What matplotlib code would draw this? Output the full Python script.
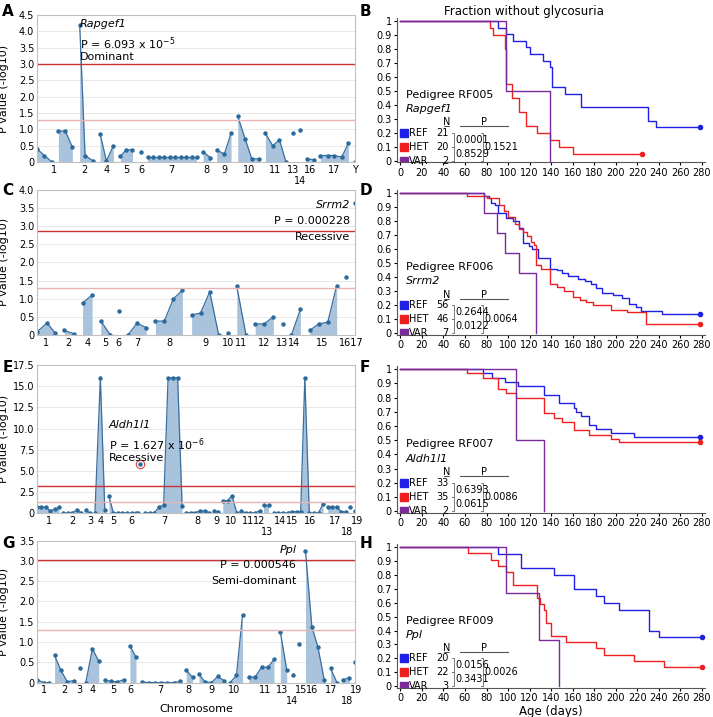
"""
Manhattan plots and survival curves for four ENU pedigrees.
"""

import numpy as np
import matplotlib.pyplot as plt

# Manhattan segments: (positions along genome 0-100, -log10 P)
A_SEGS = [
    ([0, 2.3, 4.7], [0.4, 0.2, 0.0]),
    ([6.7, 8.9, 11.1], [0.95, 0.95, 0.45]),
    ([13.4, 15.1, 17.7], [4.2, 0.2, 0.03]),
    ([19.8, 21.8, 24.0], [0.87, 0.03, 0.5]),
    ([26.2, 28.1, 30.0], [0.18, 0.38, 0.37]),
    ([32.8], [0.3]),
    ([34.9, 36.6, 38.3, 40.0, 41.8, 43.4, 45.2, 46.8, 48.6, 50.3], [0.15] * 10),
    ([52.2, 54.5], [0.32, 0.13]),
    ([56.5, 58.9, 61.0], [0.36, 0.25, 0.88]),
    ([63.1, 65.4, 67.5, 69.7], [1.4, 0.72, 0.1, 0.1]),
    ([71.8, 74.1, 76.2, 78.3], [0.88, 0.5, 0.68, 0.0]),
    ([80.5], [0.88]),
    ([82.7], [0.98]),
    ([84.9, 87.0], [0.1, 0.07]),
    ([89.1, 91.4, 93.5, 95.8, 97.9], [0.2, 0.2, 0.2, 0.15, 0.58]),
    ([100], [0.0]),
]
A_CHR = [("1", 5.4, 0), ("2", 14.8, 0), ("4", 21.8, 0), ("5", 28.0, 0), ("6", 32.7, 0),
         ("7", 42.3, 0), ("8", 53.3, 0), ("9", 58.9, 0), ("10", 66.7, 0), ("11", 75.0, 0),
         ("13", 80.5, 0), ("14", 82.6, 1), ("16", 85.9, 0), ("17", 93.4, 0), ("Y", 100, 0)]

C_SEGS = [
    ([0, 3.1, 5.7], [0.08, 0.33, 0.05]),
    ([8.6, 11.6], [0.12, 0.03]),
    ([14.3, 17.3], [0.88, 1.1]),
    ([20.0, 23.0], [0.39, 0.0]),
    ([25.8], [0.65]),
    ([28.6, 31.4, 34.3], [0.0, 0.32, 0.2]),
    ([37.2, 40.0, 42.9, 45.7], [0.38, 0.38, 1.0, 1.23]),
    ([48.6, 51.4, 54.3, 57.1], [0.55, 0.6, 1.19, 0.0]),
    ([60.0], [0.05]),
    ([62.8, 65.7], [1.34, 0.0]),
    ([68.6, 71.4, 74.3], [0.3, 0.3, 0.5]),
    ([77.2], [0.3]),
    ([80.0, 82.8], [0.0, 0.7]),
    ([85.7, 88.5, 91.4, 94.2], [0.12, 0.3, 0.35, 1.35]),
    ([97.1], [1.6]),
    ([100], [3.65]),
]
C_CHR = [("1", 2.8, 0), ("2", 9.9, 0), ("4", 15.9, 0), ("5", 21.6, 0), ("6", 25.6, 0),
         ("7", 31.5, 0), ("8", 41.5, 0), ("9", 52.9, 0), ("10", 60.1, 0), ("11", 64.2, 0),
         ("12", 71.5, 0), ("13", 77.2, 0), ("14", 80.8, 0), ("15", 89.8, 0), ("1617", 98.8, 0)]

E_SEGS = [
    ([0, 1.3, 2.7, 4.1, 5.5, 6.9], [0.8, 0.75, 0.75, 0.3, 0.5, 0.7]),
    ([8.3, 9.6, 11.1, 12.4, 13.9], [0.05, 0.05, 0.05, 0.4, 0.05]),
    ([15.3, 16.6], [0.35, 0.05]),
    ([18.2, 19.9, 21.3], [0.05, 16.0, 0.4]),
    ([22.6, 24.0, 25.4, 26.8, 28.3, 29.7, 31.1, 31.6], [2.0, 0.05, 0.05, 0.05, 0.05, 0.05, 0.05, 0.05]),
    ([32.5], [5.8]),
    ([33.9, 35.4, 36.8, 38.3, 39.8, 41.2, 42.6, 44.2, 45.6],
     [0.05, 0.05, 0.05, 0.7, 1.0, 16.0, 16.0, 16.0, 0.9]),
    ([46.9, 48.4, 49.8, 51.3, 52.7, 54.1], [0.1, 0.1, 0.1, 0.3, 0.3, 0.1]),
    ([55.5, 57.0], [0.3, 0.2]),
    ([58.4, 59.9, 61.3, 62.8], [1.5, 1.5, 2.1, 0.05]),
    ([64.2, 65.7, 67.1, 68.6, 70.0], [0.25, 0.05, 0.05, 0.05, 0.3]),
    ([71.5, 72.9], [1.0, 1.0]),
    ([74.4, 75.8, 77.3, 78.8, 80.1, 81.6, 82.9, 84.2, 85.6, 87.0, 88.5, 89.9],
     [0.05, 0.05, 0.05, 0.05, 0.2, 0.2, 0.2, 16.0, 0.05, 0.05, 0.05, 1.1]),
    ([91.4, 92.8, 94.3, 95.6, 97.1], [0.75, 0.75, 0.75, 0.2, 0.2]),
    ([98.5], [0.8]),
    ([100], [0.3]),
]
E_HIT = (32.5, 5.8)
E_CHR = [("1", 3.6, 0), ("2", 11.1, 0), ("3", 16.8, 0), ("4", 19.9, 0), ("5", 24.0, 0),
         ("6", 29.8, 0), ("7", 39.9, 0), ("8", 50.5, 0), ("9", 56.5, 0), ("10", 61.1, 0),
         ("11", 66.3, 0), ("12", 69.9, 0), ("13", 72.2, 1), ("14", 76.3, 0), ("15", 80.3, 0),
         ("16", 85.8, 0), ("17", 93.8, 0), ("18", 97.4, 1), ("19", 100.5, 0)]

G_SEGS = [
    ([0, 2.1, 3.6], [0.07, 0.0, 0.0]),
    ([5.5, 7.5, 9.5, 11.5], [0.67, 0.3, 0.02, 0.05]),
    ([13.4], [0.35]),
    ([15.3, 17.4, 19.4], [0.0, 0.83, 0.53]),
    ([21.3, 23.3, 25.2, 27.2], [0.06, 0.03, 0.02, 0.07]),
    ([29.2, 31.1], [0.9, 0.63]),
    ([33.1, 35.1, 37.0, 39.0, 41.0, 43.0, 45.0], [0.02, 0.0, 0.0, 0.0, 0.0, 0.0, 0.03]),
    ([46.9, 48.9], [0.3, 0.13]),
    ([50.9, 52.8, 54.8, 56.8, 58.8], [0.2, 0.02, 0.0, 0.15, 0.05]),
    ([60.7, 62.7, 64.6], [0.0, 0.18, 1.67]),
    ([66.6, 68.6, 70.6, 72.6, 74.5], [0.13, 0.14, 0.38, 0.38, 0.57]),
    ([76.5, 78.5], [1.25, 0.32]),
    ([80.5], [0.18]),
    ([82.4], [0.95]),
    ([84.4, 86.4, 88.3, 90.3], [3.25, 1.38, 0.88, 0.07]),
    ([92.3, 94.3], [0.35, 0.0]),
    ([96.2, 98.2], [0.07, 0.12]),
    ([100], [0.5]),
]
G_CHR = [("1", 2.2, 0), ("2", 8.6, 0), ("3", 13.4, 0), ("4", 17.4, 0), ("5", 24.1, 0),
         ("6", 29.5, 0), ("7", 38.9, 0), ("8", 47.7, 0), ("9", 54.7, 0), ("10", 62.0, 0),
         ("11", 71.8, 0), ("13", 76.9, 0), ("14", 80.3, 1), ("15", 82.9, 0), ("16", 86.5, 0),
         ("17", 92.6, 0), ("18", 97.4, 1), ("19", 100.3, 0)]

# Kaplan-Meier step points: (age in days, fraction)
B_REF = ([0, 91, 98, 105, 117, 120, 132, 139, 141, 153, 168, 230, 237, 278],
         [1, 0.95, 0.905, 0.857, 0.81, 0.762, 0.714, 0.667, 0.524, 0.476, 0.381, 0.286, 0.238, 0.238])
B_HET = ([0, 83, 86, 97, 98, 104, 110, 117, 127, 139, 147, 160, 224],
         [1, 0.95, 0.9, 0.8, 0.55, 0.45, 0.35, 0.25, 0.2, 0.15, 0.1, 0.05, 0.05])
B_VAR = ([0, 98, 139], [1, 0.5, 0.0])

D_REF = ([0, 78, 82, 84, 88, 91, 98, 105, 110, 114, 119, 122, 128, 139, 145, 150, 156, 165, 171,
          177, 182, 187, 197, 206, 212, 219, 223, 243, 278],
         [1, 0.98, 0.96, 0.93, 0.91, 0.86, 0.82, 0.80, 0.75, 0.64, 0.62, 0.60, 0.54, 0.46, 0.45,
          0.43, 0.41, 0.39, 0.37, 0.35, 0.32, 0.29, 0.27, 0.25, 0.21, 0.19, 0.16, 0.14, 0.14])
D_HET = ([0, 62, 80, 92, 96, 100, 106, 110, 114, 118, 121, 124, 126, 131, 139, 145, 152, 160, 167,
          172, 179, 196, 210, 228, 278],
         [1, 0.98, 0.96, 0.91, 0.87, 0.83, 0.78, 0.74, 0.72, 0.69, 0.65, 0.63, 0.49, 0.46, 0.35,
          0.33, 0.30, 0.26, 0.24, 0.22, 0.20, 0.17, 0.15, 0.07, 0.07])
D_VAR = ([0, 78, 90, 97, 110, 126], [1, 0.857, 0.714, 0.571, 0.429, 0.0])

F_REF = ([0, 77, 85, 97, 109, 133, 147, 161, 163, 168, 175, 182, 196, 217, 278],
         [1, 0.97, 0.94, 0.91, 0.88, 0.82, 0.76, 0.73, 0.70, 0.67, 0.61, 0.58, 0.55, 0.52, 0.52])
F_HET = ([0, 62, 77, 91, 98, 107, 133, 143, 150, 161, 175, 196, 203, 278],
         [1, 0.97, 0.94, 0.86, 0.83, 0.80, 0.69, 0.66, 0.63, 0.57, 0.54, 0.51, 0.49, 0.49])
F_VAR = ([0, 107, 133], [1, 0.5, 0.0])

H_REF = ([0, 91, 112, 143, 161, 182, 189, 203, 231, 240, 280],
         [1, 0.95, 0.85, 0.80, 0.70, 0.65, 0.60, 0.55, 0.40, 0.35, 0.35])
H_HET = ([0, 63, 84, 91, 98, 105, 127, 130, 133, 135, 140, 154, 182, 189, 217, 245, 280],
         [1, 0.955, 0.91, 0.864, 0.818, 0.727, 0.636, 0.591, 0.545, 0.455, 0.364, 0.318, 0.273,
          0.227, 0.182, 0.136, 0.136])
H_VAR = ([0, 98, 129, 147], [1, 0.667, 0.333, 0.0])

GROUPS = ["REF", "HET", "VAR"]
KM_COLORS = ["#1f1fe6", "#f01f1f", "#7b2a9c"]


def plot_manhattan(ax, segs, chroms, ymax, ystep, red, gene, ptext, mode, text_x, text_y,
                   ha="left", hit=None, xlabel=False):
    """Draw one Manhattan plot: filled line segments per chromosome."""
    for xs, ys in segs:
        if len(xs) > 1:
            ax.fill_between(xs, 0, ys, color="#a9c3dc", lw=0)
            ax.plot(xs, ys, color="#3a6f9f", lw=0.9)
        ax.plot(xs, ys, "o", color="#2b6a9c", ms=2.2, ls="none")
    if hit:
        ax.plot(*hit, "o", mfc="none", mec="#e04040", ms=6, mew=0.8)
    ax.axhline(red, color="#c83232", lw=1.0)
    ax.axhline(1.3, color="#e6b4b4", lw=1.0)
    ax.set_xlim(0, 100)
    ax.set_ylim(0, ymax)
    ticks = np.arange(0, ymax + 0.01, ystep)
    ax.set_yticks(ticks)
    ax.set_yticklabels(["0"] + [f"{t:.1f}" for t in ticks[1:]], fontsize=7)
    ax.set_xticks([])
    ax.grid(True, axis="y", color="#e8e8e8", lw=0.7)
    ax.set_axisbelow(True)
    for s in ax.spines.values():
        s.set_color("#c0c0c0")
    ax.tick_params(axis="y", length=0, pad=2)
    ax.set_ylabel("P value (-log10)", fontsize=8)
    ax.yaxis.set_label_coords(-0.088, 0.5)
    for lab, x, lower in chroms:
        ax.text(x, -0.02 - 0.075 * lower, lab, transform=ax.get_xaxis_transform(),
                ha="center", va="top", fontsize=7)
    ax.text(text_x, text_y, gene, style="italic", ha=ha, va="top", fontsize=8,
            transform=ax.transAxes)
    ax.text(text_x, text_y - 0.11, ptext, ha=ha, va="top", fontsize=8, transform=ax.transAxes)
    ax.text(text_x, text_y - 0.22, mode, ha=ha, va="top", fontsize=8, transform=ax.transAxes)
    if xlabel:
        ax.text(0.5, -0.15, "Chromosome", transform=ax.transAxes, ha="center", va="top",
                fontsize=8)


def plot_km(ax, curves, ns, pvals, pedigree, gene, xlabel=False):
    """Kaplan-Meier steps with the small N / P table in the lower left."""
    for (t, s), c in zip(curves, KM_COLORS):
        ax.step(t, s, where="post", color=c, lw=1.0)
        if s[-1] > 0:
            ax.plot(t[-1], s[-1], "o", color=c, ms=3)
    ax.set_xlim(-3, 283)
    ax.set_ylim(-0.01, 1.02)
    ax.set_xticks(range(0, 281, 20))
    ax.set_yticks(np.arange(0, 1.01, 0.1))
    ax.set_yticklabels(["0"] + [f"{v:.1f}" for v in np.arange(0.1, 0.95, 0.1)] + ["1"])
    ax.tick_params(labelsize=7, length=2.5, pad=1.5)
    for side in ["top", "right"]:
        ax.spines[side].set_visible(False)
    for side in ["left", "bottom"]:
        ax.spines[side].set_color("#555555")
    ax.text(5, 0.47, f"Pedigree {pedigree}", fontsize=8, va="center")
    ax.text(5, 0.37, gene, fontsize=8, style="italic", va="center")
    ax.text(43, 0.275, "N", fontsize=7, ha="center", va="center")
    ax.plot([40.5, 45.5], [0.245, 0.245], color="k", lw=0.5)
    ax.text(78, 0.275, "P", fontsize=7, ha="center", va="center")
    ax.plot([55, 100], [0.245, 0.245], color="#555555", lw=0.8)
    for i, (g, n, c) in enumerate(zip(GROUPS, ns, KM_COLORS)):
        y = 0.2 - 0.1 * i
        ax.plot(3, y, "s", color=c, ms=5.5)
        ax.text(8, y, g, fontsize=7, va="center")
        ax.text(45, y, str(n), fontsize=7, va="center", ha="right")
    ax.plot([48, 50, 50, 48], [0.2, 0.2, 0.1, 0.1], color="#666666", lw=0.6)
    ax.plot([48, 50, 50, 48], [0.1, 0.1, 0.0, 0.0], color="#666666", lw=0.6)
    ax.text(51, 0.15, pvals[0], fontsize=7, va="center")
    ax.text(51, 0.05, pvals[1], fontsize=7, va="center")
    ax.plot([75, 77, 77, 75], [0.2, 0.2, 0.0, 0.0], color="#666666", lw=0.6)
    ax.text(78, 0.1, pvals[2], fontsize=7, va="center")
    if xlabel:
        ax.set_xlabel("Age (days)", fontsize=8.5, labelpad=1)


def main():
    fig = plt.figure(figsize=(7.13, 7.17), dpi=100)
    left = [fig.add_axes([0.052, b, 0.446, h]) for b, h in
            [(0.774, 0.205), (0.533, 0.202), (0.284, 0.207), (0.048, 0.198)]]
    right = [fig.add_axes([0.557, b, 0.432, h]) for b, h in
             [(0.774, 0.201), (0.533, 0.202), (0.285, 0.204), (0.041, 0.200)]]

    plot_manhattan(left[0], A_SEGS, A_CHR, 4.5, 0.5, 3.0, "Rapgef1",
                   r"P = 6.093 x 10$^{-5}$", "Dominant", 0.135, 0.97)
    plot_manhattan(left[1], C_SEGS, C_CHR, 4.0, 0.5, 2.87, "Srrm2",
                   "P = 0.000228", "Recessive", 0.985, 0.93, ha="right")
    plot_manhattan(left[2], E_SEGS, E_CHR, 17.5, 2.5, 3.2, "Aldh1l1",
                   r"P = 1.627 x 10$^{-6}$", "Recessive", 0.225, 0.63, hit=E_HIT)
    plot_manhattan(left[3], G_SEGS, G_CHR, 3.5, 0.5, 3.02, "Ppl",
                   "P = 0.000546", "Semi-dominant", 0.815, 0.97, ha="right", xlabel=True)

    plot_km(right[0], [B_REF, B_HET, B_VAR], [21, 20, 2], ["0.0001", "0.8529", "0.1521"],
            "RF005", "Rapgef1")
    plot_km(right[1], [D_REF, D_HET, D_VAR], [56, 46, 7], ["0.2644", "0.0122", "0.0064"],
            "RF006", "Srrm2")
    plot_km(right[2], [F_REF, F_HET, F_VAR], [33, 35, 2], ["0.6393", "0.0615", "0.0086"],
            "RF007", "Aldh1l1")
    plot_km(right[3], [H_REF, H_HET, H_VAR], [20, 22, 3], ["0.0156", "0.3431", "0.0026"],
            "RF009", "Ppl", xlabel=True)

    fig.text(0.735, 0.993, "Fraction without glycosuria", ha="center", va="top", fontsize=8.5)
    for lab, x, y in [("A", 0.003, 0.995), ("C", 0.003, 0.745), ("E", 0.003, 0.498),
                      ("G", 0.003, 0.252), ("B", 0.505, 0.995), ("D", 0.505, 0.745),
                      ("F", 0.505, 0.498), ("H", 0.505, 0.252)]:
        fig.text(x, y, lab, fontsize=11, fontweight="bold", va="top")
    fig.savefig("out.png", dpi=100)
    plt.close()


if __name__ == "__main__":
    main()
